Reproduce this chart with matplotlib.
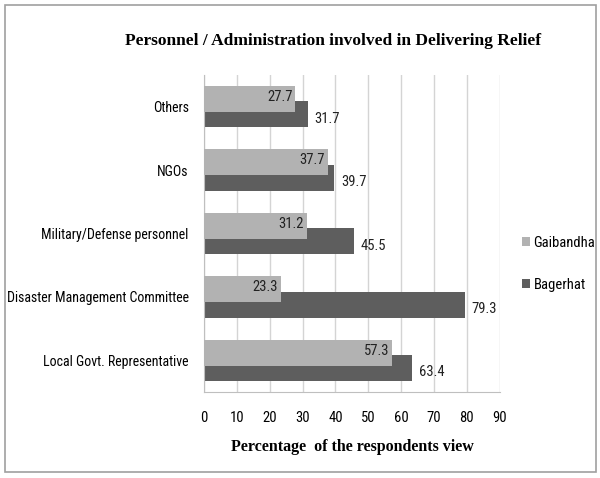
import matplotlib
matplotlib.use("Agg")
import matplotlib.pyplot as plt
from matplotlib.patches import Rectangle
import numpy as np

categories = ["Local Govt. Representative", "Disaster Management Committee",
              "Military/Defense personnel", "NGOs", "Others"]
gaibandha = [57.3, 23.3, 31.2, 37.7, 27.7]
bagerhat = [63.4, 79.3, 45.5, 39.7, 31.7]
x_ticks = [0, 10, 20, 30, 40, 50, 60, 70, 80, 90]

light = "#b2b2b2"
dark = "#5e5e5e"
label_font = ["Roboto Condensed", "DejaVu Sans"]
serif_font = ["Liberation Serif", "DejaVu Serif"]
fs = 10.5

fig = plt.figure(figsize=(6.0, 4.78), dpi=100)
fig.patches.append(Rectangle((0.008, 0.012), 0.985, 0.978, transform=fig.transFigure,
                             fill=False, edgecolor="#a0a0a0", linewidth=1.2))
ax = fig.add_axes([0.34, 0.18, 0.493, 0.663])

y = np.arange(len(categories))
h = 0.41
off = 0.122
ax.barh(y - off, bagerhat, height=h, color=dark, zorder=2, label="Bagerhat")
ax.barh(y + off, gaibandha, height=h, color=light, zorder=3, label="Gaibandha")

for yi, g, b in zip(y, gaibandha, bagerhat):
    ax.text(g - 0.8, yi + off + 0.03, f"{g}", ha="right", va="center", fontsize=fs,
            family=label_font, color="#222222", zorder=4)
    ax.text(b + 2.0, yi - off - 0.07, f"{b}", ha="left", va="center", fontsize=fs,
            family=label_font, color="#222222", zorder=4)

ax.set_xlim(0, 90)
ax.set_ylim(-0.5, len(categories) - 0.5)
ax.set_xticks(x_ticks)
ax.set_xticklabels([str(t) for t in x_ticks], family=label_font, fontsize=fs)
ax.set_yticks(y)
ax.set_yticklabels(categories, family=label_font, fontsize=10)
ax.tick_params(axis="x", length=0, pad=14)
ax.tick_params(axis="y", length=0, pad=11)
ax.xaxis.grid(True, color="#d4d4d4", linewidth=1.0, zorder=0)
ax.set_axisbelow(True)
for s in ["top", "right"]:
    ax.spines[s].set_visible(False)
ax.spines["left"].set_color("#bfbfbf")
ax.spines["bottom"].set_color("#bfbfbf")

ax.set_xlabel("Percentage  of the respondents view", family=serif_font,
              fontweight="bold", fontsize=11.5, labelpad=10)
fig.text(0.555, 0.915, "Personnel / Administration involved in Delivering Relief",
         ha="center", va="center", family=serif_font, fontweight="bold",
         fontsize=12.5)

handles, labels = ax.get_legend_handles_labels()
leg = fig.legend(handles[::-1], labels[::-1], loc="center left",
                 bbox_to_anchor=(0.855, 0.448), frameon=False,
                 prop={"family": label_font, "size": fs},
                 handlelength=0.55, handleheight=0.55, handletextpad=0.25,
                 labelspacing=1.9, borderaxespad=0.2)

fig.savefig("out.png", dpi=100)
